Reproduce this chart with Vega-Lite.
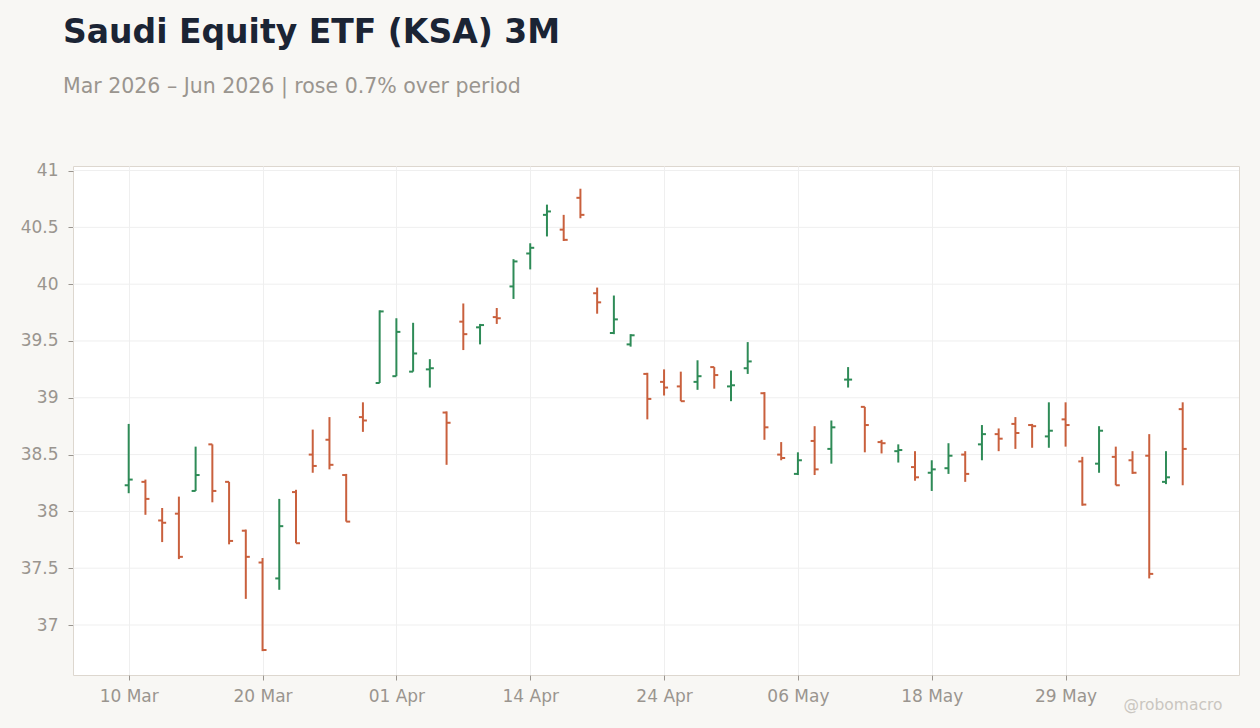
{
  "$schema": "https://vega.github.io/schema/vega-lite/v6.json",
  "background": "#f8f7f4",
  "autosize": {"type": "none"},
  "padding": {"left": 73, "top": 166, "right": 21, "bottom": 53},
  "width": 1166,
  "height": 509,
  "title": {
    "text": "Saudi Equity ETF (KSA) 3M",
    "subtitle": "Mar 2026 \u2013 Jun 2026 | rose 0.7% over period",
    "anchor": "start",
    "frame": "group",
    "dx": -10,
    "offset": 64,
    "font": "DejaVu Sans",
    "fontSize": 33,
    "fontWeight": "bold",
    "color": "#1b2434",
    "subtitleFont": "DejaVu Sans",
    "subtitleFontSize": 20.5,
    "subtitleColor": "#9a958f",
    "subtitlePadding": 27
  },
  "datasets": {
    "grid": [{"g": 37}, {"g": 37.5}, {"g": 38}, {"g": 38.5}, {"g": 39}, {"g": 39.5}, {"g": 40}, {"g": 40.5}, {"g": 41}],
    "ohlc": [
      {"d": "10 Mar", "o": 38.23, "h": 38.77, "l": 38.16, "c": 38.28},
      {"d": "11 Mar", "o": 38.26, "h": 38.28, "l": 37.97, "c": 38.11},
      {"d": "12 Mar", "o": 37.92, "h": 38.03, "l": 37.73, "c": 37.90},
      {"d": "13 Mar", "o": 37.98, "h": 38.13, "l": 37.58, "c": 37.60},
      {"d": "16 Mar", "o": 38.18, "h": 38.57, "l": 38.18, "c": 38.32},
      {"d": "17 Mar", "o": 38.59, "h": 38.59, "l": 38.08, "c": 38.18},
      {"d": "18 Mar", "o": 38.26, "h": 38.26, "l": 37.71, "c": 37.74},
      {"d": "19 Mar", "o": 37.83, "h": 37.84, "l": 37.23, "c": 37.60},
      {"d": "20 Mar", "o": 37.55, "h": 37.59, "l": 36.77, "c": 36.78},
      {"d": "23 Mar", "o": 37.41, "h": 38.11, "l": 37.31, "c": 37.87},
      {"d": "24 Mar", "o": 38.17, "h": 38.19, "l": 37.72, "c": 37.72},
      {"d": "25 Mar", "o": 38.50, "h": 38.72, "l": 38.34, "c": 38.40},
      {"d": "26 Mar", "o": 38.63, "h": 38.83, "l": 38.37, "c": 38.41},
      {"d": "27 Mar", "o": 38.32, "h": 38.33, "l": 37.91, "c": 37.91},
      {"d": "30 Mar", "o": 38.83, "h": 38.96, "l": 38.70, "c": 38.80},
      {"d": "31 Mar", "o": 39.13, "h": 39.77, "l": 39.13, "c": 39.76},
      {"d": "01 Apr", "o": 39.19, "h": 39.70, "l": 39.19, "c": 39.58},
      {"d": "02 Apr", "o": 39.23, "h": 39.66, "l": 39.23, "c": 39.39},
      {"d": "06 Apr", "o": 39.25, "h": 39.34, "l": 39.09, "c": 39.26},
      {"d": "07 Apr", "o": 38.87, "h": 38.88, "l": 38.41, "c": 38.78},
      {"d": "08 Apr", "o": 39.67, "h": 39.83, "l": 39.42, "c": 39.56},
      {"d": "09 Apr", "o": 39.62, "h": 39.65, "l": 39.47, "c": 39.64},
      {"d": "10 Apr", "o": 39.71, "h": 39.79, "l": 39.65, "c": 39.70},
      {"d": "13 Apr", "o": 39.98, "h": 40.22, "l": 39.87, "c": 40.20},
      {"d": "14 Apr", "o": 40.27, "h": 40.36, "l": 40.13, "c": 40.32},
      {"d": "15 Apr", "o": 40.61, "h": 40.70, "l": 40.42, "c": 40.64},
      {"d": "16 Apr", "o": 40.48, "h": 40.61, "l": 40.38, "c": 40.39},
      {"d": "17 Apr", "o": 40.76, "h": 40.84, "l": 40.58, "c": 40.61},
      {"d": "20 Apr", "o": 39.92, "h": 39.97, "l": 39.74, "c": 39.84},
      {"d": "21 Apr", "o": 39.57, "h": 39.90, "l": 39.56, "c": 39.69},
      {"d": "22 Apr", "o": 39.47, "h": 39.56, "l": 39.45, "c": 39.55},
      {"d": "23 Apr", "o": 39.21, "h": 39.22, "l": 38.81, "c": 38.99},
      {"d": "24 Apr", "o": 39.14, "h": 39.25, "l": 39.02, "c": 39.09},
      {"d": "27 Apr", "o": 39.10, "h": 39.23, "l": 38.97, "c": 38.97},
      {"d": "28 Apr", "o": 39.14, "h": 39.33, "l": 39.07, "c": 39.19},
      {"d": "29 Apr", "o": 39.27, "h": 39.27, "l": 39.08, "c": 39.20},
      {"d": "30 Apr", "o": 39.10, "h": 39.24, "l": 38.97, "c": 39.11},
      {"d": "01 May", "o": 39.26, "h": 39.49, "l": 39.21, "c": 39.32},
      {"d": "04 May", "o": 39.04, "h": 39.05, "l": 38.63, "c": 38.74},
      {"d": "05 May", "o": 38.50, "h": 38.61, "l": 38.45, "c": 38.47},
      {"d": "06 May", "o": 38.33, "h": 38.52, "l": 38.32, "c": 38.45},
      {"d": "07 May", "o": 38.62, "h": 38.75, "l": 38.32, "c": 38.37},
      {"d": "08 May", "o": 38.55, "h": 38.80, "l": 38.42, "c": 38.74},
      {"d": "11 May", "o": 39.16, "h": 39.27, "l": 39.09, "c": 39.16},
      {"d": "12 May", "o": 38.92, "h": 38.92, "l": 38.52, "c": 38.76},
      {"d": "13 May", "o": 38.61, "h": 38.63, "l": 38.51, "c": 38.60},
      {"d": "14 May", "o": 38.53, "h": 38.59, "l": 38.43, "c": 38.54},
      {"d": "15 May", "o": 38.39, "h": 38.53, "l": 38.27, "c": 38.30},
      {"d": "18 May", "o": 38.34, "h": 38.45, "l": 38.18, "c": 38.37},
      {"d": "19 May", "o": 38.38, "h": 38.60, "l": 38.33, "c": 38.49},
      {"d": "20 May", "o": 38.50, "h": 38.53, "l": 38.26, "c": 38.33},
      {"d": "21 May", "o": 38.59, "h": 38.76, "l": 38.45, "c": 38.68},
      {"d": "22 May", "o": 38.68, "h": 38.73, "l": 38.53, "c": 38.64},
      {"d": "26 May", "o": 38.77, "h": 38.83, "l": 38.55, "c": 38.69},
      {"d": "27 May", "o": 38.76, "h": 38.77, "l": 38.56, "c": 38.75},
      {"d": "28 May", "o": 38.66, "h": 38.96, "l": 38.56, "c": 38.71},
      {"d": "29 May", "o": 38.81, "h": 38.96, "l": 38.57, "c": 38.76},
      {"d": "01 Jun", "o": 38.44, "h": 38.48, "l": 38.05, "c": 38.06},
      {"d": "02 Jun", "o": 38.42, "h": 38.75, "l": 38.34, "c": 38.71},
      {"d": "03 Jun", "o": 38.48, "h": 38.57, "l": 38.23, "c": 38.23},
      {"d": "04 Jun", "o": 38.45, "h": 38.53, "l": 38.33, "c": 38.34},
      {"d": "05 Jun", "o": 38.49, "h": 38.68, "l": 37.41, "c": 37.45},
      {"d": "08 Jun", "o": 38.26, "h": 38.53, "l": 38.24, "c": 38.30},
      {"d": "09 Jun", "o": 38.90, "h": 38.96, "l": 38.23, "c": 38.55}
    ]
  },
  "layer": [
    {
      "data": {"name": "grid"},
      "mark": {"type": "rule", "color": "#efefef", "strokeWidth": 1},
      "encoding": {
        "y": {
          "field": "g",
          "type": "quantitative",
          "title": null,
          "scale": {"domain": [36.56, 41.04], "nice": false, "zero": false},
          "axis": {"values": [37, 37.5, 38, 38.5, 39, 39.5, 40, 40.5, 41], "format": "~g", "grid": false, "title": null}
        }
      }
    },
    {
      "data": {"name": "ohlc"},
      "encoding": {
        "x": {
          "field": "d",
          "type": "ordinal",
          "sort": null,
          "scale": {"type": "point", "padding": 0, "range": [55.7, 1109.7]},
          "axis": {
            "values": ["10 Mar", "20 Mar", "01 Apr", "14 Apr", "24 Apr", "06 May", "18 May", "29 May"],
            "labelAngle": 0,
            "grid": true,
            "title": "@robomacro",
            "titleX": 1149,
            "titleY": 34,
            "titleAlign": "right",
            "titleBaseline": "alphabetic",
            "titleFontSize": 15.5,
            "titleFontWeight": "normal",
            "titleColor": "#cac6c0"
          }
        },
        "color": {
          "condition": {"test": "datum.c >= datum.o", "value": "#2e8b57"},
          "value": "#c9603d"
        }
      },
      "layer": [
        {
          "mark": {"type": "rule", "strokeWidth": 2},
          "encoding": {
            "y": {"field": "l", "type": "quantitative", "title": null},
            "y2": {"field": "h"}
          }
        },
        {
          "mark": {"type": "tick", "thickness": 2, "size": 4, "xOffset": -2, "opacity": 1},
          "encoding": {"y": {"field": "o", "type": "quantitative", "title": null}}
        },
        {
          "mark": {"type": "tick", "thickness": 2, "size": 4, "xOffset": 2, "opacity": 1},
          "encoding": {"y": {"field": "c", "type": "quantitative", "title": null}}
        }
      ]
    }
  ],
  "config": {
    "font": "DejaVu Sans",
    "view": {"fill": "#ffffff", "stroke": "#ddd7cf", "strokeWidth": 1},
    "axis": {
      "domain": false,
      "gridColor": "#efefef",
      "gridWidth": 1,
      "tickColor": "#9a958f",
      "tickSize": 5,
      "labelColor": "#9a958f",
      "labelFontSize": 17,
      "labelPadding": 8
    },
    "axisY": {"labelPadding": 10, "grid": false}
  }
}
